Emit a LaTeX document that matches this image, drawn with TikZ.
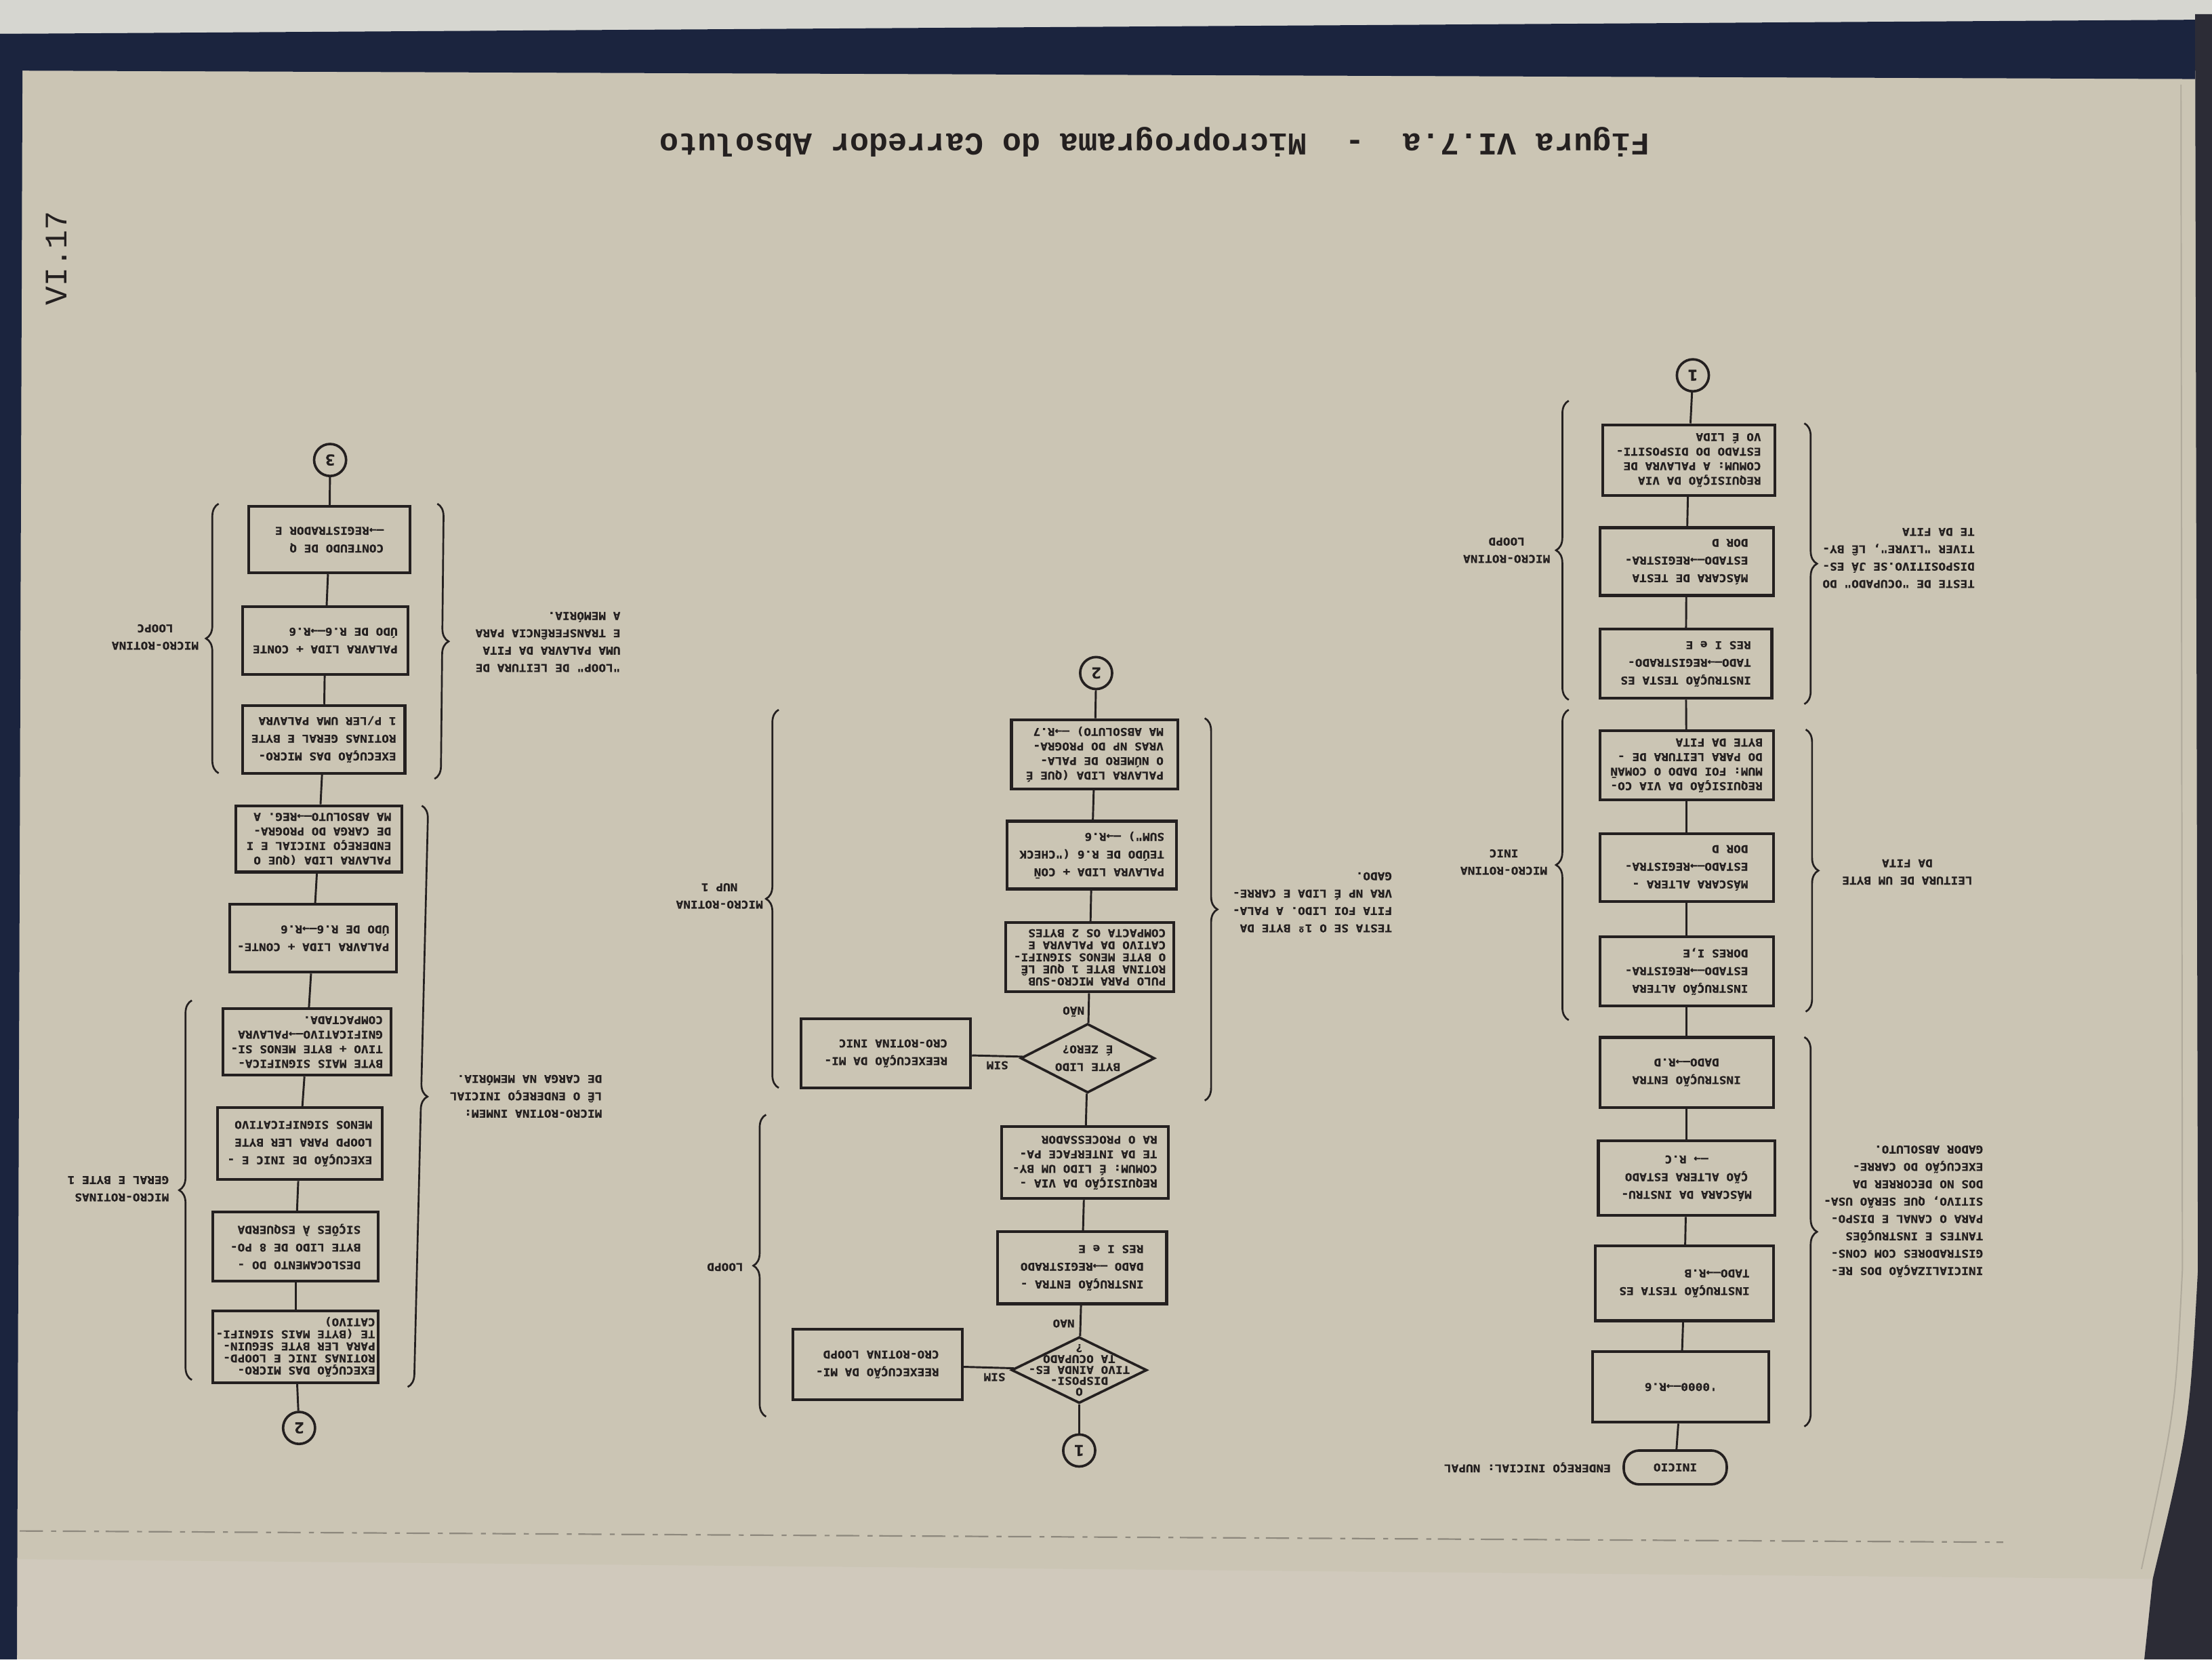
\documentclass[tikz,border=0pt]{standalone}
\usepackage{fontspec}
\usetikzlibrary{shapes.geometric,decorations.pathreplacing}
\newfontfamily\typeface{DejaVu Sans Mono}[FakeStretch=1.12, BoldFeatures={FakeBold=0.8}]
\newfontfamily\headface{Liberation Mono}
\definecolor{paper}{RGB}{203,197,180}
\definecolor{inkc}{RGB}{36,32,32}
\definecolor{navyc}{RGB}{27,36,62}
\definecolor{skyc}{RGB}{214,214,208}
\definecolor{deskc}{RGB}{208,201,188}
\definecolor{edgec}{RGB}{176,170,156}
\definecolor{coverc}{RGB}{44,44,54}
\newcommand\ftwo{\typeface\bfseries\fontsize{6.5}{10.7}\selectfont}
\newcommand\ffour{\typeface\bfseries\fontsize{6.5}{8.8}\selectfont}
\newcommand\ffive{\typeface\bfseries\fontsize{6.5}{7.3}\selectfont}
\newcommand\fdia{\typeface\bfseries\fontsize{6.5}{6.6}\selectfont}
\newcommand\fnote{\typeface\bfseries\fontsize{6.5}{10.5}\selectfont}
\tikzset{
  box/.style={draw=inkc, line width=1.7pt, rectangle, rotate=180, inner sep=0pt,
    align=left, text=inkc, font=\ftwo},
  sz/.style 2 args={minimum width=#1*0.03cm, minimum height=#2*0.03cm},
  link/.style={draw=inkc, line width=1.2pt},
  conn/.style={draw=inkc, circle, line width=1.5pt, rotate=180, minimum size=0.68cm,
    inner sep=0pt, text=inkc, font=\typeface\bfseries\fontsize{9}{9}\selectfont},
  dia/.style={draw=inkc, diamond, line width=1.5pt, inner sep=0pt},
  note/.style={rotate=180, inner sep=0pt, text=inkc, font=\fnote},
  brc/.style={draw=inkc, line width=1.1pt, decorate, decoration={brace, amplitude=0.27cm}}
}
\begin{document}
\begin{tikzpicture}[x=0.03cm, y=-0.03cm]
\useasboundingbox (0,0) rectangle (1568,1176);
% photographed page and book surroundings
\fill[deskc] (0,0) rectangle (1568,1176);
\fill[paper] (12,50) -- (1556,56) -- (1558,900) .. controls (1552,1010) .. (1526,1119)
  -- (12,1105) -- cycle;
\draw[edgec, line width=0.8pt] (1546,60) -- (1547,900) .. controls (1542,1000) .. (1518,1112);
\draw[edgec!80!black, line width=0.9pt, dash pattern=on 14pt off 5pt on 3pt off 4pt]
  (14,1085) -- (1420,1093);
\fill[skyc] (0,0) rectangle (1568,24);
\fill[navyc] (0,24) -- (1556,14) -- (1556,56) -- (0,50) -- cycle;
\fill[navyc] (0,24) -- (16,24) -- (12,1176) -- (0,1176) -- cycle;
\fill[coverc] (1556,10) -- (1568,10) -- (1568,1176) -- (1520,1176) -- (1526,1119)
  .. controls (1552,1010) .. (1558,900) -- cycle;

% heading and page number
\node[rotate=180, text=inkc, font=\headface\bfseries\fontsize{19.2}{19.2}\selectfont]
  (title) at (818.5,100.5) {Figura VI.7.a\ \ -\ \ Microprograma do Carredor Absoluto};
\node[rotate=90, text=inkc, font=\headface\fontsize{19}{19}\selectfont] (pgno) at (40,183) {VI.17};

% ---- chart 1: initialisation and tape byte reading
\node[conn] (a0) at (1200,266) {1};
\node[box, sz={122}{50}, font=\ffour] (a1) at (1197,326) {REQUISIÇÃO DA VIA\\COMUM: A PALAVRA DE\\ESTADO DO DISPOSITI-\\VO É LIDA};
\node[box, sz={123}{48}] (a2) at (1195.5,398) {MÁSCARA DE TESTA\\ESTADO—→REGISTRA-\\DOR D};
\node[box, sz={122}{49}] (a3) at (1195,470.5) {INSTRUÇÃO TESTA ES\\TADO—→REGISTRADO-\\RES I e E};
\node[box, sz={123}{49}, font=\ffour] (a4) at (1195.5,542.5) {REQUISIÇÃO DA VIA CO-\\MUM: FOI DADO O COMAN̄\\DO PARA LEITURA DE -\\BYTE DA FITA};
\node[box, sz={123}{48}] (a5) at (1195.5,615) {MÁSCARA ALTERA -\\ESTADO—→REGISTRA-\\DOR D};
\node[box, sz={123}{49}] (a6) at (1195.5,688.5) {INSTRUÇÃO ALTERA\\ESTADO—→REGISTRA-\\DORES I,E};
\node[box, sz={123}{49.5}, align=center] (a7) at (1195.5,760) {INSTRUÇÃO ENTRA\\DADO—→R.D};
\node[box, sz={125}{53}, align=center] (a8) at (1195.5,835) {MÁSCARA DA INSTRU-\\ÇÃO ALTERA ESTADO\\—→ R.C};
\node[box, sz={126}{53}] (a9) at (1194,909.5) {INSTRUÇÃO TESTA ES\\TADO—→R.B};
\node[box, sz={125}{50}, align=center] (a10) at (1191.5,983) {'0000—→R.6};
\node[box, sz={73}{24}, rounded corners=0.33cm, line width=1.5pt] (a11) at (1187.5,1040) {INICIO};
\foreach \p/\q in {a0/a1,a1/a2,a2/a3,a3/a4,a4/a5,a5/a6,a6/a7,a7/a8,a8/a9,a9/a10,a10/a11}
  \draw[link] (\p) -- (\q);

\draw[brc] (1112,496) -- (1112,284);
\draw[brc] (1112,723) -- (1112,503);
\draw[brc] (1279,300) -- (1279,499);
\draw[brc] (1280,517) -- (1280,717);
\draw[brc] (1279,735) -- (1279,1011);
\node[note, align=center] (n1) at (1068,390) {MICRO-ROTINA\\LOOPD};
\node[note, align=center] (n2) at (1066,611) {MICRO-ROTINA\\INIC};
\node[note, align=left, anchor=west] (n3) at (1400,395.5) {TESTE DE "OCUPADO" DO\\DISPOSITIVO.SE JÁ ES-\\TIVER "LIVRE", LÊ BY-\\TE DA FITA};
\node[note, align=center] (n4) at (1352,618) {LEITURA DE UM BYTE\\DA FITA};
\node[note, align=left, anchor=west] (n5) at (1406,858.5) {INICIALIZAÇÃO DOS RE-\\GISTRADORES COM CONS-\\TANTES E INSTRUÇÕES\\PARA O CANAL E DISPO-\\SITIVO, QUE SERÃO USA-\\DOS NO DECORRER DA\\EXECUÇÃO DO CARRE-\\GADOR ABSOLUTO.};
\node[note, anchor=west] (n6) at (1142,1040) {ENDEREÇO INICIAL: NUPAL};

% ---- chart 2: first word of the tape
\node[conn] (b0) at (777,477) {2};
\node[box, sz={118}{49}, font=\ffour] (b1) at (776,534.5) {PALAVRA LIDA (QUE É\\O NÚMERO DE PALA-\\VRAS NP DO PROGRA-\\MA ABSOLUTO) —→R.7};
\node[box, sz={120}{48}] (b2) at (774,606) {PALAVRA LIDA + CON̄\\TEÚDO DE R.6 ("CHECK\\SUM") —→R.6};
\node[box, sz={119}{49}, font=\ffive] (b3) at (772.5,678.5) {PULO PARA MICRO-SUB\\ROTINA BYTE 1 QUE LÊ\\O BYTE MENOS SIGNIFI-\\CATIVO DA PALAVRA E\\COMPACTA OS 2 BYTES};
\node[dia, sz={95}{49}] (b4) at (771,750) {};
\node[note, align=center, font=\ftwo] (b4t) at (b4) {BYTE LIDO\\É ZERO?};
\node[box, sz={120}{49}] (b5) at (628,746.5) {REEXECUÇÃO DA MI-\\CRO-ROTINA INIC};
\node[box, sz={118}{51}, font=\ffour] (b6) at (769,824) {REQUISIÇÃO DA VIA -\\COMUM: É LIDO UM BY-\\TE DA INTERFACE PA-\\RA O PROCESSADOR};
\node[box, sz={120}{51}] (b7) at (767,898.5) {INSTRUÇÃO ENTRA -\\DADO —→REGISTRADO\\RES I e E};
\node[dia, sz={96}{47}] (b8) at (765,971) {};
\node[note, align=center, font=\fdia] (b8t) at (b8) {O\\DISPOSI-\\TIVO AINDA ES-\\TA OCUPADO\\?};
\node[box, sz={120}{50}] (b9) at (622,967) {REEXECUÇÃO DA MI-\\CRO-ROTINA LOOPD};
\node[conn] (b10) at (765,1028) {1};
\foreach \p/\q in {b0/b1,b1/b2,b2/b3,b3/b4,b4/b6,b6/b7,b7/b8,b8/b10,b4/b5,b8/b9}
  \draw[link] (\p) -- (\q);
\node[note] (nao1) at (754,938) {NAO};
\node[note] (nao2) at (761,717) {NÃO};
\node[note] (sim1) at (705,976) {SIM};
\node[note] (sim2) at (707,755) {SIM};

\draw[brc] (854,509) -- (854,780);
\draw[brc] (552,771) -- (552,503);
\draw[brc] (543,1004) -- (543,790);
\node[note, align=left, anchor=west] (n7) at (987,639.5) {TESTA SE O 1º BYTE DA\\FITA FOI LIDO. A PALA-\\VRA NP É LIDA E CARRE-\\GADO.};
\node[note, align=center] (n8) at (510,635) {MICRO-ROTINA\\NUP 1};
\node[note] (n9) at (514,898) {LOOPD};

% ---- chart 3: load address and word loop
\node[conn] (c0) at (234,326) {3};
\node[box, sz={114}{47}] (c1) at (233.5,382.5) {CONTEUDO DE Q\\—→REGISTRADOR E};
\node[box, sz={117}{48}] (c2) at (230.5,454) {PALAVRA LIDA + CONTE\\ÚDO DE R.6—→R.6};
\node[box, sz={115}{48}] (c3) at (229.5,524) {EXECUÇÃO DAS MICRO-\\ROTINAS GERAL E BYTE\\1 P/LER UMA PALAVRA};
\node[box, sz={118}{47}, font=\ffour] (c4) at (226,594.5) {PALAVRA LIDA (QUE O\\ENDEREÇO INICIAL E I\\DE CARGA DO PROGRA-\\MA ABSOLUTO—→REG. A};
\node[box, sz={118}{48}] (c5) at (222,665) {PALAVRA LIDA + CONTE-\\ÚDO DE R.6—→R.6};
\node[box, sz={119}{47}, font=\ffour] (c6) at (217.5,738.5) {BYTE MAIS SIGNIFICA-\\TIVO + BYTE MENOS SI-\\GNIFICATIVO—→PALAVRA\\COMPACTADA.};
\node[box, sz={117}{51}] (c7) at (212.5,810.5) {EXECUÇÃO DE INIC E -\\LOOPD PARA LER BYTE\\MENOS SIGNIFICATIVO};
\node[box, sz={117}{49}] (c8) at (209.5,883.5) {DESLOCAMENTO DO -\\BYTE LIDO DE 8 PO-\\SIÇÕES À ESQUERDA};
\node[box, sz={117}{51}, font=\ffive] (c9) at (209.5,954.5) {EXECUÇÃO DAS MICRO-\\ROTINAS INIC E LOOPD-\\PARA LER BYTE SEGUIN-\\TE (BYTE MAIS SIGNIFI-\\CATIVO)};
\node[conn] (c10) at (212,1012) {2};
\foreach \p/\q in {c0/c1,c1/c2,c2/c3,c3/c4,c4/c5,c5/c6,c6/c7,c7/c8,c8/c9,c9/c10}
  \draw[link] (\p) -- (\q);

\draw[brc] (136,978) -- (136,709);
\draw[brc] (155,548) -- (155,357);
\draw[brc] (299,571) -- (289,983);
\draw[brc] (310,357) -- (308,552);
\node[note, align=left, anchor=west] (n10) at (120,842.5) {MICRO-ROTINAS\\GERAL E BYTE 1};
\node[note, align=center] (n11) at (110,451.5) {MICRO-ROTINA\\LOOPC};
\node[note, align=left, anchor=west] (n12) at (427,777) {MICRO-ROTINA INMEM:\\LÊ O ENDEREÇO INICIAL\\DE CARGA NA MEMÓRIA.};
\node[note, align=left, anchor=west] (n13) at (440,455) {"LOOP" DE LEITURA DE\\UMA PALAVRA DA FITA\\E TRANSFERÊNCIA PARA\\A MEMÓRIA.};
\end{tikzpicture}
\end{document}
